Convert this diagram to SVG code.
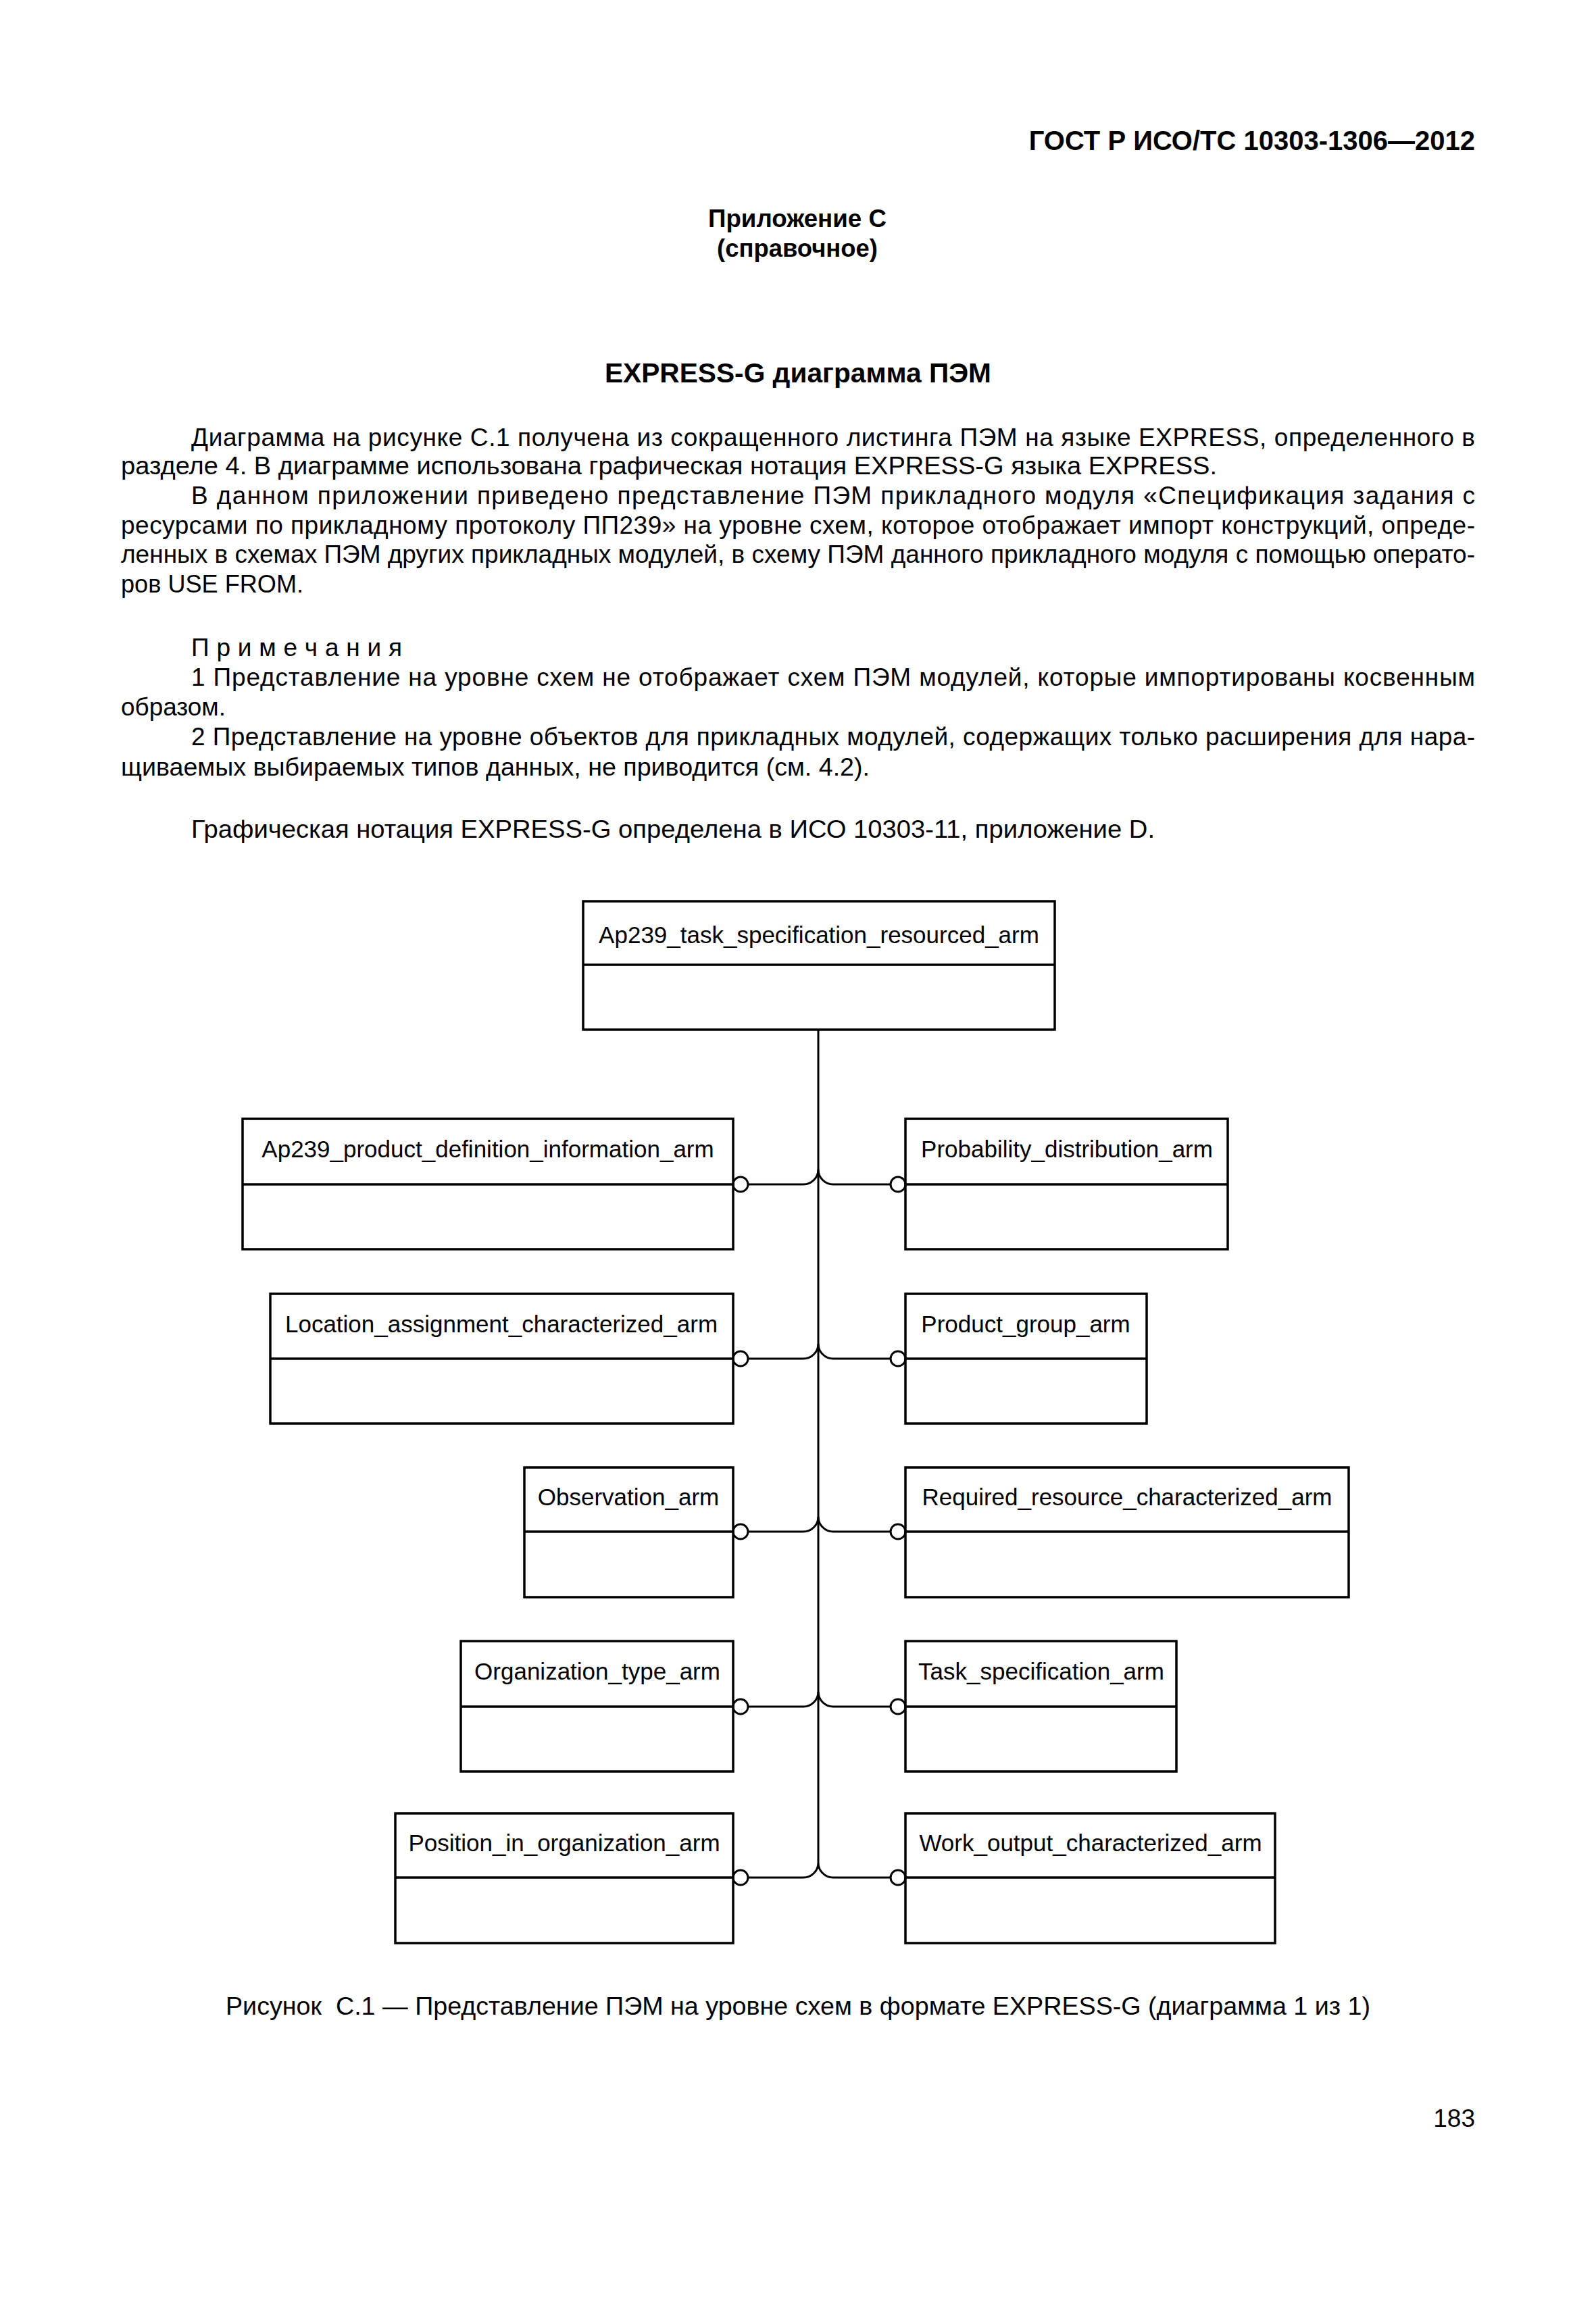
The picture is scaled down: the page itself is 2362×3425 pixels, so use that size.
<svg xmlns="http://www.w3.org/2000/svg" width="2362" height="3425" viewBox="0 0 2362 3425">
<style>
text{font-family:"Liberation Sans",Arial,sans-serif;fill:#000}
.hd{font-size:40px;font-weight:bold}
.h2{font-size:37px;font-weight:bold}
.b{font-size:37px}
.lbl{font-size:35px;text-anchor:middle}
.box{fill:#fff;stroke:#000;stroke-width:3.5}
.div{stroke:#000;stroke-width:3.5}
.con{fill:none;stroke:#000;stroke-width:3}
.ring{fill:#fff;stroke:#000;stroke-width:3}
</style>
<rect width="2362" height="3425" fill="#fff"/>
<g id="page-text">
<text class="hd" x="2183" y="222" text-anchor="end">ГОСТ Р ИСО/ТС 10303-1306—2012</text>
<text class="h2" x="1180" y="336" text-anchor="middle" textLength="264" lengthAdjust="spacingAndGlyphs">Приложение С</text>
<text class="h2" x="1180" y="380" text-anchor="middle" textLength="238" lengthAdjust="spacingAndGlyphs">(справочное)</text>
<text class="hd" x="1181" y="566" text-anchor="middle" textLength="572" lengthAdjust="spacingAndGlyphs">EXPRESS-G диаграмма ПЭМ</text>
<text class="b" x="283" y="660" textLength="1900" lengthAdjust="spacing">Диаграмма на рисунке С.1 получена из сокращенного листинга ПЭМ на языке EXPRESS, определенного в</text>
<text class="b" x="179" y="702" textLength="1622" lengthAdjust="spacingAndGlyphs">разделе 4. В диаграмме использована графическая нотация EXPRESS-G языка EXPRESS.</text>
<text class="b" x="283" y="746" textLength="1900" lengthAdjust="spacing">В данном приложении приведено представление ПЭМ прикладного модуля «Спецификация задания с</text>
<text class="b" x="179" y="790" textLength="2004" lengthAdjust="spacing">ресурсами по прикладному протоколу ПП239» на уровне схем, которое отображает импорт конструкций, опреде-</text>
<text class="b" x="179" y="833" textLength="2004" lengthAdjust="spacing">ленных в схемах ПЭМ других прикладных модулей, в схему ПЭМ данного прикладного модуля с помощью операто-</text>
<text class="b" x="179" y="877" textLength="270" lengthAdjust="spacingAndGlyphs">ров USE FROM.</text>
<text class="b" x="283" y="971" textLength="312" lengthAdjust="spacing">П р и м е ч а н и я</text>
<text class="b" x="283" y="1015" textLength="1900" lengthAdjust="spacing">1 Представление на уровне схем не отображает схем ПЭМ модулей, которые импортированы косвенным</text>
<text class="b" x="179" y="1059" textLength="155" lengthAdjust="spacingAndGlyphs">образом.</text>
<text class="b" x="283" y="1103" textLength="1900" lengthAdjust="spacing">2 Представление на уровне объектов для прикладных модулей, содержащих только расширения для нара-</text>
<text class="b" x="179" y="1148" textLength="1108" lengthAdjust="spacingAndGlyphs">щиваемых выбираемых типов данных, не приводится (см. 4.2).</text>
<text class="b" x="283" y="1240" textLength="1426" lengthAdjust="spacingAndGlyphs">Графическая нотация EXPRESS-G определена в ИСО 10303-11, приложение D.</text>
<text class="b" x="1181" y="2982" text-anchor="middle" textLength="1694" lengthAdjust="spacingAndGlyphs">Рисунок&#160; С.1 — Представление ПЭМ на уровне схем в формате EXPRESS-G (диаграмма 1 из 1)</text>
<text class="b" x="2183" y="3148" text-anchor="end">183</text>
</g>
<g id="connectors">
<path class="con" d="M1211 1524 V2757"/>
<path class="con" d="M1107 1753 H1189 A22 22 0 0 0 1211 1731 A22 22 0 0 0 1233 1753 H1318"/>
<path class="con" d="M1107 2011 H1189 A22 22 0 0 0 1211 1989 A22 22 0 0 0 1233 2011 H1318"/>
<path class="con" d="M1107 2267 H1189 A22 22 0 0 0 1211 2245 A22 22 0 0 0 1233 2267 H1318"/>
<path class="con" d="M1107 2526 H1189 A22 22 0 0 0 1211 2504 A22 22 0 0 0 1233 2526 H1318"/>
<path class="con" d="M1107 2779 H1189 A22 22 0 0 0 1211 2757 A22 22 0 0 0 1233 2779 H1318"/>
<circle class="ring" cx="1096" cy="1753" r="11"/>
<circle class="ring" cx="1329" cy="1753" r="11"/>
<circle class="ring" cx="1096" cy="2011" r="11"/>
<circle class="ring" cx="1329" cy="2011" r="11"/>
<circle class="ring" cx="1096" cy="2267" r="11"/>
<circle class="ring" cx="1329" cy="2267" r="11"/>
<circle class="ring" cx="1096" cy="2526" r="11"/>
<circle class="ring" cx="1329" cy="2526" r="11"/>
<circle class="ring" cx="1096" cy="2779" r="11"/>
<circle class="ring" cx="1329" cy="2779" r="11"/>
</g>
<g id="node-main">
<rect class="box" x="863" y="1334" width="698" height="190"/>
<line class="div" x1="863" y1="1428" x2="1561" y2="1428"/>
<text class="lbl" x="1212" y="1396">Ap239_task_specification_resourced_arm</text>
</g>
<g id="node-ap239-pdi">
<rect class="box" x="359" y="1656" width="726" height="193"/>
<line class="div" x1="359" y1="1753" x2="1085" y2="1753"/>
<text class="lbl" x="722" y="1713">Ap239_product_definition_information_arm</text>
</g>
<g id="node-probability">
<rect class="box" x="1340" y="1656" width="477" height="193"/>
<line class="div" x1="1340" y1="1753" x2="1817" y2="1753"/>
<text class="lbl" x="1579" y="1713">Probability_distribution_arm</text>
</g>
<g id="node-location">
<rect class="box" x="400" y="1915" width="685" height="192"/>
<line class="div" x1="400" y1="2011" x2="1085" y2="2011"/>
<text class="lbl" x="742" y="1972">Location_assignment_characterized_arm</text>
</g>
<g id="node-product-group">
<rect class="box" x="1340" y="1915" width="357" height="192"/>
<line class="div" x1="1340" y1="2011" x2="1697" y2="2011"/>
<text class="lbl" x="1518" y="1972">Product_group_arm</text>
</g>
<g id="node-observation">
<rect class="box" x="776" y="2172" width="309" height="192"/>
<line class="div" x1="776" y1="2267" x2="1085" y2="2267"/>
<text class="lbl" x="930" y="2228">Observation_arm</text>
</g>
<g id="node-required-resource">
<rect class="box" x="1340" y="2172" width="656" height="192"/>
<line class="div" x1="1340" y1="2267" x2="1996" y2="2267"/>
<text class="lbl" x="1668" y="2228">Required_resource_characterized_arm</text>
</g>
<g id="node-organization-type">
<rect class="box" x="682" y="2429" width="403" height="193"/>
<line class="div" x1="682" y1="2526" x2="1085" y2="2526"/>
<text class="lbl" x="884" y="2486">Organization_type_arm</text>
</g>
<g id="node-task-spec">
<rect class="box" x="1340" y="2429" width="401" height="193"/>
<line class="div" x1="1340" y1="2526" x2="1741" y2="2526"/>
<text class="lbl" x="1541" y="2486">Task_specification_arm</text>
</g>
<g id="node-position">
<rect class="box" x="585" y="2684" width="500" height="192"/>
<line class="div" x1="585" y1="2779" x2="1085" y2="2779"/>
<text class="lbl" x="835" y="2740">Position_in_organization_arm</text>
</g>
<g id="node-work-output">
<rect class="box" x="1340" y="2684" width="547" height="192"/>
<line class="div" x1="1340" y1="2779" x2="1887" y2="2779"/>
<text class="lbl" x="1614" y="2740">Work_output_characterized_arm</text>
</g>
</svg>
